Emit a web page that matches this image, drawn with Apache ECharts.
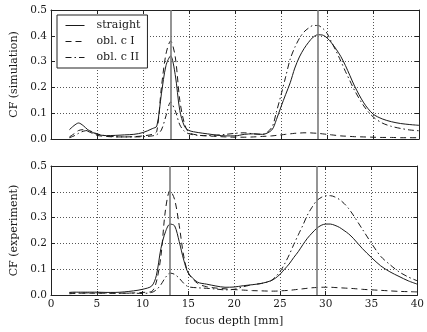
<!DOCTYPE html>
<html>
<head>
<meta charset="utf-8">
<script src="https://cdn.jsdelivr.net/npm/echarts@6/dist/echarts.min.js"></script>
<style>
  html, body { margin: 0; padding: 0; background: #fff; }
  #chart { width: 427px; height: 332px; }
</style>
</head>
<body>
<div id="chart"></div>
<script>
// Focus depth samples [mm], shared by every curve
const depth = [2, 2.5, 3, 3.5, 4, 4.5, 5, 6, 7, 8, 9, 10, 11, 11.5, 12, 12.5, 13, 13.5, 14, 14.5, 15,
  16, 17, 18, 19, 20, 21, 22, 23, 24, 24.5, 25, 25.5, 26, 26.5, 27, 27.5, 28, 28.5, 29, 29.5, 30,
  30.5, 31, 31.5, 32, 32.5, 33, 34, 35, 36, 37, 38, 39, 40];

// Coherence factor, simulation
const simStraight = [0.036, 0.052, 0.062, 0.052, 0.036, 0.026, 0.018, 0.013, 0.014, 0.016, 0.018, 0.025, 0.04,
  0.05, 0.175, 0.285, 0.322, 0.25, 0.11, 0.05, 0.033,
  0.025, 0.02, 0.015, 0.012, 0.012, 0.018, 0.02, 0.018, 0.035,
  0.075, 0.125, 0.172, 0.218, 0.275, 0.318, 0.35, 0.375, 0.395, 0.404, 0.403, 0.392, 0.372, 0.348, 0.32, 0.285, 0.245, 0.205,
  0.14, 0.097, 0.078, 0.067, 0.06, 0.056, 0.053];
const simOblI = [0.008, 0.02, 0.033, 0.036, 0.03, 0.022, 0.014, 0.01, 0.008, 0.008, 0.009, 0.012, 0.018,
  0.03, 0.2, 0.33, 0.38, 0.32, 0.15, 0.06, 0.025,
  0.015, 0.012, 0.01, 0.008, 0.007, 0.007, 0.008, 0.01, 0.012,
  0.014, 0.016, 0.018, 0.02, 0.022, 0.023, 0.024, 0.024, 0.023, 0.022, 0.02, 0.018, 0.016, 0.014, 0.012, 0.011, 0.01, 0.009,
  0.008, 0.007, 0.006, 0.006, 0.005, 0.005, 0.005];
const simOblII = [0.005, 0.012, 0.022, 0.03, 0.033, 0.028, 0.02, 0.012, 0.009, 0.008, 0.008, 0.009, 0.012,
  0.017, 0.035, 0.09, 0.143, 0.11, 0.055, 0.03, 0.02,
  0.014, 0.013, 0.015, 0.018, 0.022, 0.024, 0.02, 0.018, 0.045,
  0.105, 0.17, 0.24, 0.31, 0.355, 0.39, 0.415, 0.43, 0.44, 0.44, 0.43, 0.41, 0.375, 0.34, 0.302, 0.262, 0.225, 0.188,
  0.128, 0.086, 0.062, 0.049, 0.041, 0.035, 0.032];

// Coherence factor, experiment
const expStraight = [0.01, 0.011, 0.011, 0.011, 0.011, 0.011, 0.011, 0.01, 0.01, 0.012, 0.016, 0.022, 0.035,
  0.075, 0.18, 0.245, 0.275, 0.268, 0.207, 0.135, 0.085,
  0.05, 0.042, 0.035, 0.03, 0.031, 0.036, 0.04, 0.045, 0.055,
  0.065, 0.08, 0.1, 0.12, 0.145, 0.168, 0.195, 0.22, 0.24, 0.258, 0.27, 0.275, 0.275, 0.27, 0.262, 0.25, 0.237, 0.22,
  0.18, 0.145, 0.113, 0.09, 0.072, 0.055, 0.042];
const expOblI = [0.005, 0.006, 0.007, 0.007, 0.007, 0.007, 0.007, 0.007, 0.007, 0.007, 0.008, 0.01, 0.014,
  0.05, 0.15, 0.33, 0.405, 0.37, 0.27, 0.15, 0.085,
  0.045, 0.032, 0.027, 0.024, 0.021, 0.019, 0.017, 0.016, 0.015,
  0.015, 0.016, 0.017, 0.018, 0.02, 0.022, 0.024, 0.026, 0.028, 0.029, 0.03, 0.03, 0.03, 0.029, 0.028, 0.027, 0.026, 0.025,
  0.022, 0.02, 0.018, 0.016, 0.014, 0.013, 0.012];
const expOblII = [0.008, 0.008, 0.008, 0.008, 0.008, 0.008, 0.008, 0.008, 0.007, 0.007, 0.007, 0.006, 0.01,
  0.02, 0.04, 0.068, 0.085, 0.08, 0.065, 0.045, 0.032,
  0.028, 0.026, 0.023, 0.02, 0.022, 0.032, 0.04, 0.045, 0.055,
  0.07, 0.09, 0.12, 0.155, 0.195, 0.233, 0.27, 0.31, 0.34, 0.365, 0.378, 0.385, 0.385, 0.38, 0.37, 0.355, 0.335, 0.31,
  0.255, 0.2, 0.15, 0.118, 0.09, 0.07, 0.055];

// Nominal focal depths marked by vertical lines [mm]
const focusMarks = [13, 29];

const seriesNames = ['straight', 'obl. c I', 'obl. c II'];
const yAxisNames = ['CF (simulation)', 'CF (experiment)'];
const xAxisName = 'focus depth [mm]';

const FONT = 'DejaVu Serif';
const INK = '#1a1a1a';
const dashStyles = ['solid', [6, 4], [6, 3, 1.5, 3]];

const pairs = vals => depth.map((d, i) => [d, vals[i]]);

function xAx(grid, pos, labels) {
  return {
    type: 'value', gridIndex: grid, position: pos, min: 0, max: 40, interval: 5,
    name: labels ? xAxisName : '', nameLocation: 'middle', nameGap: 21,
    nameTextStyle: { fontFamily: FONT, fontSize: 11, color: INK },
    axisLine: { show: true, onZero: false, lineStyle: { color: '#222', width: 1 } },
    axisTick: { show: true, inside: true, length: 4, lineStyle: { color: '#222' } },
    axisLabel: { show: labels, margin: 4, fontFamily: FONT, fontSize: 10.5, color: INK },
    splitLine: { show: pos === 'bottom', lineStyle: { color: '#555', type: [1, 2], width: 1 } }
  };
}
function yAx(grid, pos) {
  const left = pos === 'left';
  return {
    type: 'value', gridIndex: grid, position: pos, min: 0, max: 0.5, interval: 0.1,
    name: left ? yAxisNames[grid] : '', nameLocation: 'middle', nameGap: 22,
    nameTextStyle: { fontFamily: FONT, fontSize: 11, color: INK },
    axisLine: { show: true, onZero: false, lineStyle: { color: '#222', width: 1 } },
    axisTick: { show: true, inside: true, length: 4, lineStyle: { color: '#222' } },
    axisLabel: { show: left, margin: 4, fontFamily: FONT, fontSize: 10.5, color: INK,
      formatter: v => v.toFixed(1) },
    splitLine: { show: left, lineStyle: { color: '#555', type: [1, 2], width: 1 } }
  };
}

function curve(name, vals, k, grid) {
  const s = {
    name: name, type: 'line', xAxisIndex: grid, yAxisIndex: grid,
    data: pairs(vals), showSymbol: false, symbol: 'none',
    smooth: 0.3,
    lineStyle: { color: INK, width: 1, type: dashStyles[k] },
    itemStyle: { color: INK },
    animation: false, silent: true, z: 3
  };
  if (k === 0) {
    s.markLine = {
      silent: true, symbol: 'none', animation: false,
      label: { show: false },
      lineStyle: { color: '#7a7a7a', width: 1.6, type: 'solid' },
      data: focusMarks.map(x => ({ xAxis: x }))
    };
  }
  return s;
}

const chart = echarts.init(document.getElementById('chart'), null, { renderer: 'canvas' });
chart.setOption({
  backgroundColor: '#fff',
  animation: false,
  grid: [
    { left: 51, top: 10, width: 368, height: 129 },
    { left: 51, top: 166, width: 368, height: 129 }
  ],
  xAxis: [xAx(0, 'bottom', false), xAx(1, 'bottom', true), xAx(0, 'top', false), xAx(1, 'top', false)],
  yAxis: [yAx(0, 'left'), yAx(1, 'left'), yAx(0, 'right'), yAx(1, 'right')],
  legend: {
    data: seriesNames,
    orient: 'vertical', left: 57, top: 15,
    padding: [5, 7, 5, 8], itemGap: 5, itemWidth: 19, itemHeight: 12,
    backgroundColor: '#fff', borderColor: '#222', borderWidth: 1,
    itemStyle: { opacity: 0 },
    lineStyle: { width: 1 },
    textStyle: { fontFamily: FONT, fontSize: 11, color: INK, padding: [0, 0, 0, 7] },
    selectedMode: false
  },
  series: [
    curve(seriesNames[0], simStraight, 0, 0),
    curve(seriesNames[1], simOblI, 1, 0),
    curve(seriesNames[2], simOblII, 2, 0),
    curve(seriesNames[0], expStraight, 0, 1),
    curve(seriesNames[1], expOblI, 1, 1),
    curve(seriesNames[2], expOblII, 2, 1)
  ]
});
</script>
</body>
</html>
